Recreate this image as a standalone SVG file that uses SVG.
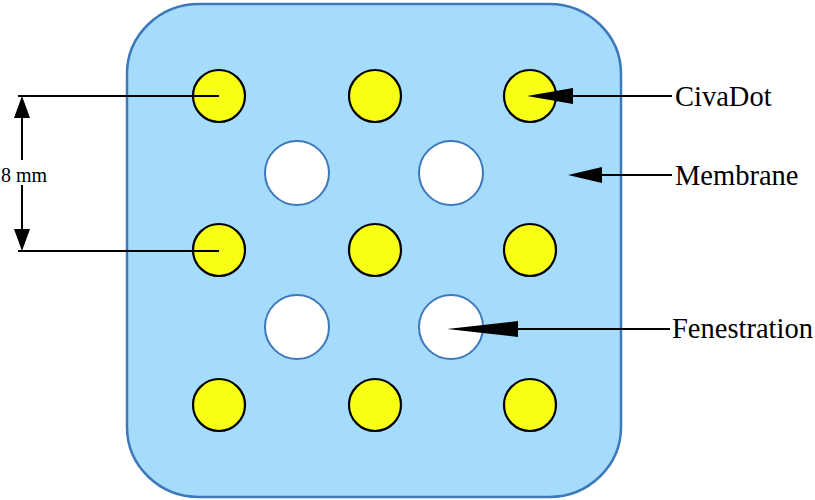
<svg xmlns="http://www.w3.org/2000/svg" width="815" height="500" viewBox="0 0 815 500">
<style>
.dot{fill:#f6ff14;stroke:#000;stroke-width:2.2}
.hole{fill:#fff;stroke:#3d78bb;stroke-width:2}
.ln{stroke:#000;stroke-width:2;fill:none}
.hd{fill:#000;stroke:none}
.lbl{font-family:"Liberation Serif","Times New Roman",serif;font-size:28.5px;fill:#000}
</style>
<rect width="815" height="500" fill="#fff"/>
<g id="membrane">
<rect x="127" y="4" width="494" height="493" rx="72" ry="70" fill="#a6dcfb" stroke="#3d78bb" stroke-width="2.5"/>
</g>
<g id="holes">
<circle class="hole" cx="297" cy="173" r="32"/>
<circle class="hole" cx="451" cy="173" r="32"/>
<circle class="hole" cx="297" cy="327" r="32"/>
<circle class="hole" cx="451" cy="327" r="32"/>
</g>
<g id="dots">
<circle class="dot" cx="219" cy="96" r="26"/>
<circle class="dot" cx="375" cy="96" r="26"/>
<circle class="dot" cx="530" cy="96" r="26"/>
<circle class="dot" cx="219" cy="250" r="26"/>
<circle class="dot" cx="375" cy="250" r="26"/>
<circle class="dot" cx="530" cy="250" r="26"/>
<circle class="dot" cx="219" cy="405" r="26"/>
<circle class="dot" cx="375" cy="405" r="26"/>
<circle class="dot" cx="530" cy="405" r="26"/>
</g>
<g id="connectors">
<line class="ln" x1="18" y1="96" x2="219" y2="96"/>
<line class="ln" x1="18" y1="251" x2="219" y2="251"/>
<line class="ln" x1="22" y1="115" x2="22" y2="160"/>
<line class="ln" x1="22" y1="185" x2="22" y2="232"/>
<polygon class="hd" points="22,96 14,118 30,118"/>
<polygon class="hd" points="22,251 14,229 30,229"/>
<line class="ln" x1="570" y1="96" x2="672" y2="96"/>
<polygon class="hd" points="527,96 573,88 573,104"/>
<line class="ln" x1="600" y1="175" x2="672" y2="175"/>
<polygon class="hd" points="568,175 602,167 602,183"/>
<line class="ln" x1="516" y1="329" x2="670" y2="329"/>
<polygon class="hd" points="447,329 518,321 518,337"/>
</g>
<g id="labels">
<text class="lbl" x="47" y="182" text-anchor="end" style="font-size:20px">8 mm</text>
<text class="lbl" x="675" y="106">CivaDot</text>
<text class="lbl" x="675" y="185">Membrane</text>
<text class="lbl" x="672" y="338">Fenestration</text>
</g>
</svg>
